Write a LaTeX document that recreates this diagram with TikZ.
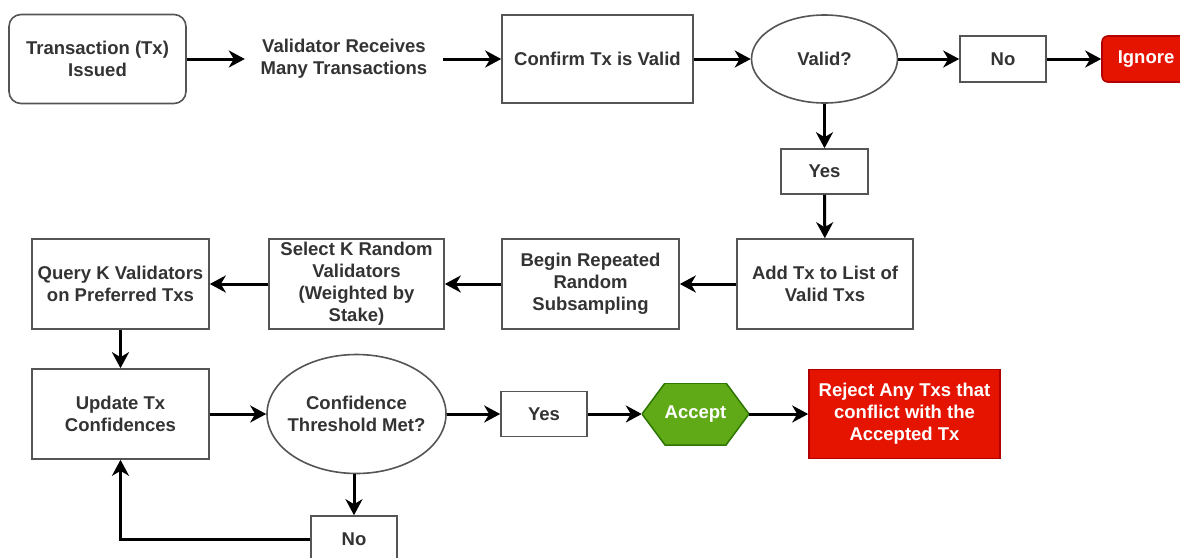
\documentclass[tikz,border=0pt]{standalone}
\usepackage{fontspec}
\setmainfont{Liberation Sans}
\usetikzlibrary{shapes.geometric,arrows.meta,calc}
\definecolor{txt}{HTML}{333333}
\definecolor{brd}{HTML}{555555}
\definecolor{rd}{HTML}{E51400}
\definecolor{rdb}{HTML}{B20000}
\definecolor{gr}{HTML}{60A917}
\definecolor{grb}{HTML}{2D7600}
\begin{document}
\begin{tikzpicture}[x=1pt,y=-1pt,
  lbl/.style={font=\bfseries\fontsize{18.5}{22}\selectfont, text=txt, align=center, inner sep=0pt},
  box/.style={lbl, draw=brd, line width=1.6pt, fill=white},
  oval/.style={box, ellipse},
  redbox/.style={box, fill=rd, draw=rdb, text=white},
  flow/.style={line width=3pt, -{Stealth[length=16pt,width=17pt,inset=5pt]}},
]
\useasboundingbox[fill=white] (0,0) rectangle (1180,557);

% Row 1
\node[box, rounded corners=12pt, minimum width=177, minimum height=89] (tx) at (97.5,59) {Transaction (Tx)\\Issued};
\node[lbl, minimum width=198, minimum height=50] (vr) at (344,59) {Validator Receives\\Many Transactions};
\node[box, minimum width=191, minimum height=88] (cf) at (597.5,59) {Confirm Tx is Valid};
\node[oval, minimum width=146, minimum height=88] (vd) at (824.5,59) {Valid?};
\node[box, minimum width=86, minimum height=46] (no1) at (1003,59) {No};
\node[redbox, rounded corners=6pt, minimum width=88, minimum height=46] (ig) at (1146,59) {Ignore};

\node[box, minimum width=87, minimum height=45] (yes1) at (824.5,171.5) {Yes};

% Row 2
\node[box, minimum width=176, minimum height=90] (add) at (825,284) {Add Tx to List of\\Valid Txs};
\node[box, minimum width=177, minimum height=90] (beg) at (590.5,284) {Begin Repeated\\Random\\Subsampling};
\node[box, minimum width=175, minimum height=90] (sel) at (356.5,284) {Select K Random\\Validators\\(Weighted by\\Stake)};
\node[box, minimum width=177, minimum height=90] (qry) at (120.5,284) {Query K Validators\\on Preferred Txs};

% Row 3
\node[box, minimum width=177, minimum height=90] (upd) at (120.5,414) {Update Tx\\Confidences};
\node[oval, inner xsep=-8pt, minimum width=179, minimum height=119] (ct) at (356.5,414) {Confidence\\Threshold Met?};
\node[box, minimum width=86, minimum height=45] (yes2) at (544,414) {Yes};
\node[lbl, text=white, minimum width=107, minimum height=62,
  path picture={
    \filldraw[fill=gr, draw=grb, line width=1.5pt]
      (path picture bounding box.west)
      -- ($(path picture bounding box.north west)+(23,0)$)
      -- ($(path picture bounding box.north east)+(-23,0)$)
      -- (path picture bounding box.east)
      -- ($(path picture bounding box.south east)+(-23,0)$)
      -- ($(path picture bounding box.south west)+(23,0)$)
      -- cycle;
  }] (acc) at (695.5,414) {Accept};
\node[redbox, minimum width=191, minimum height=89] (rej) at (904.5,414) {Reject Any Txs that\\conflict with the\\Accepted Tx};
\node[box, minimum width=86, minimum height=46] (no2) at (354,539) {No};

% Connectors
\draw[flow] (tx) -- (vr);
\draw[flow] (vr) -- (cf);
\draw[flow] (cf) -- (vd);
\draw[flow] (vd) -- (no1);
\draw[flow] (no1) -- (ig);
\draw[flow] (vd) -- (yes1);
\draw[flow] (yes1) -- (add);
\draw[flow] (add) -- (beg);
\draw[flow] (beg) -- (sel);
\draw[flow] (sel) -- (qry);
\draw[flow] (qry) -- (upd);
\draw[flow] (upd) -- (ct);
\draw[flow] (ct) -- (yes2);
\draw[flow] (yes2) -- (acc);
\draw[flow] (acc) -- (rej);
\draw[flow] (ct.south -| no2.north) -- (no2.north);
\draw[flow] (no2.west) -| (upd.south);
\end{tikzpicture}
\end{document}
